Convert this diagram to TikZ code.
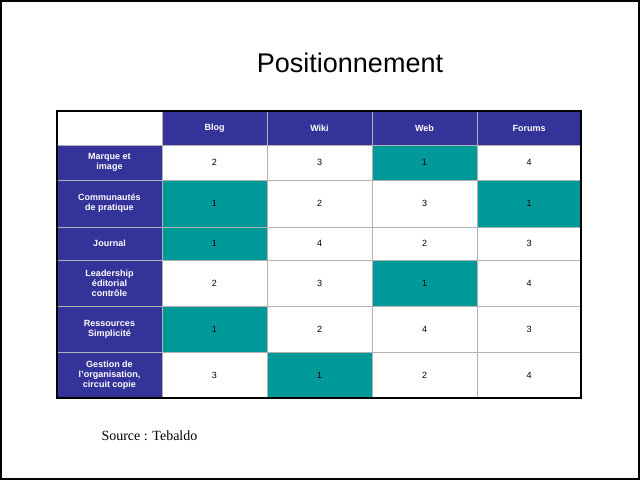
\documentclass[tikz,border=0pt]{standalone}
\usepackage{fontspec}
\setmainfont{Liberation Serif}
\setsansfont{Liberation Sans}
\usetikzlibrary{positioning,calc}
\definecolor{headblue}{HTML}{333399}
\definecolor{teal1}{HTML}{009999}
\begin{document}
\begin{tikzpicture}[x=1pt,y=-1pt,
  headcell/.style={fill=headblue, draw=gray!60, line width=0.6pt},
  hitcell/.style={fill=teal1, draw=gray!60, line width=0.6pt},
  plaincell/.style={fill=white, draw=gray!60, line width=0.6pt},
  headtext/.style={font=\sffamily\bfseries\fontsize{9}{10}\selectfont, text=white, align=center},
  celltext/.style={font=\sffamily\fontsize{9}{10}\selectfont, text=black}
]
\useasboundingbox (0,0) rectangle (640,480);
\draw[line width=2pt] (1,1) rectangle (639,479);
\node[font=\sffamily\fontsize{27}{32}\selectfont] (title) at (350,63) {Positionnement};
% column and row limits
\def\colx{{57,162,267,372,477,581}}
\def\rowy{{111,145,180,227,260,306,352,398}}
% header row
\draw[plaincell] (57,111) rectangle (162,145);
\foreach \c/\txt in {1/Blog,2/Wiki,3/Web,4/Forums}{
  \pgfmathsetmacro{\xa}{\colx[\c]}
  \pgfmathsetmacro{\xb}{\colx[\c+1]}
  \draw[headcell] (\xa,111) rectangle (\xb,145);
  \node[headtext] (h\c) at ({(\xa+\xb)/2},128) {\txt};
}
% rows: label / values / column of the 1s
\foreach \r/\lab/\va/\vb/\vc/\vd in {
  1/{Marque et\\image}/2/3/1/4,
  2/{Communautés\\de pratique}/1/2/3/1,
  3/{Journal}/1/4/2/3,
  4/{Leadership\\éditorial\\contrôle}/2/3/1/4,
  5/{Ressources\\Simplicité}/1/2/4/3,
  6/{Gestion de\\l’organisation,\\circuit copie}/3/1/2/4}{
  \pgfmathsetmacro{\ya}{\rowy[\r]}
  \pgfmathsetmacro{\yb}{\rowy[\r+1]}
  \draw[headcell] (57,\ya) rectangle (162,\yb);
  \node[headtext] (l\r) at (109.5,{(\ya+\yb)/2}) {\lab};
  \foreach \c/\v in {1/\va,2/\vb,3/\vc,4/\vd}{
    \pgfmathsetmacro{\xa}{\colx[\c]}
    \pgfmathsetmacro{\xb}{\colx[\c+1]}
    \ifnum\v=1
      \draw[hitcell] (\xa,\ya) rectangle (\xb,\yb);
    \else
      \draw[plaincell] (\xa,\ya) rectangle (\xb,\yb);
    \fi
    \node[celltext] (v\r\c) at ({(\xa+\xb)/2},{(\ya+\yb)/2}) {\v};
  }
}
\draw[line width=1.2pt] (57,111) rectangle (581,398);
\node[anchor=west, font=\fontsize{14}{16}\selectfont] (src) at (98,436) {Source : Tebaldo};
\end{tikzpicture}
\end{document}
